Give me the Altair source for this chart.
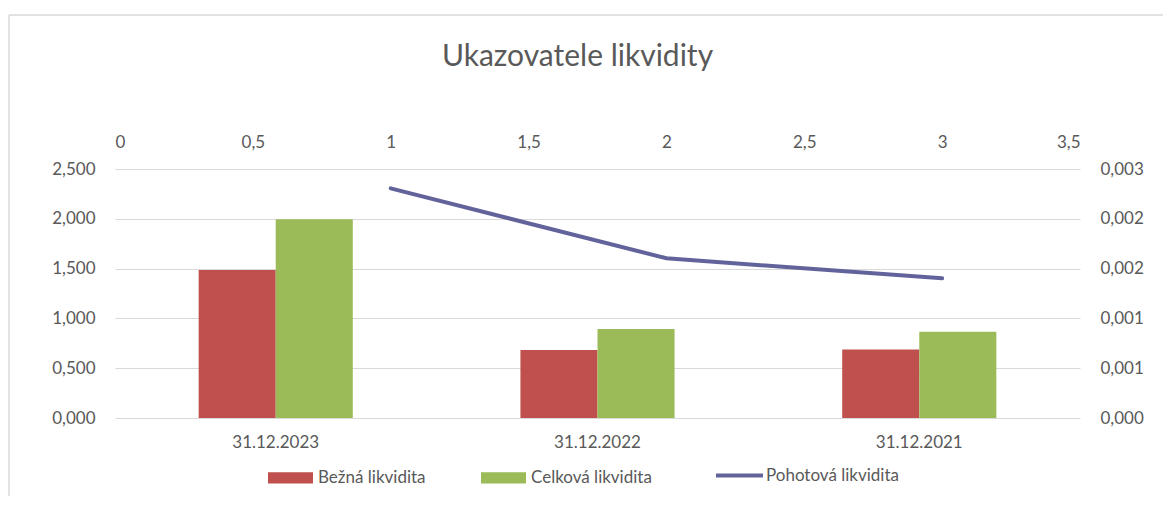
import altair as alt
import pandas as pd

dates = ["31.12.2023", "31.12.2022", "31.12.2021"]
bezna = [1.486, 0.683, 0.688]
celkova = [1.995, 0.894, 0.866]
pohotova = [0.002767, 0.001924, 0.001683]
line_pos = [1, 2, 3]
series_bars = ["Bežná likvidita", "Celková likvidita"]
series_line = ["Pohotová likvidita"]

FONT = "Lato"
TXT = "#595959"
GRID = "#d9d9d9"

bars_df = pd.DataFrame({
    "date": dates * 2,
    "series": [series_bars[0]] * 3 + [series_bars[1]] * 3,
    "value": bezna + celkova,
})
line_df = pd.DataFrame({"pos": line_pos, "value": pohotova, "series": series_line * 3})
frame_df = pd.DataFrame({"k": [0]})

bars = alt.Chart(bars_df).mark_bar().encode(
    x=alt.X("date:N", sort=dates, title=None,
            scale=alt.Scale(paddingInner=0.521, paddingOuter=0.26),
            axis=alt.Axis(orient="bottom", labelAngle=0, ticks=False, tickSize=0, domain=False,
                          labelPadding=29, labelBaseline="alphabetic")),
    xOffset=alt.XOffset("series:N", sort=series_bars),
    y=alt.Y("value:Q", title=None,
            scale=alt.Scale(domain=[0, 2.5], nice=False),
            axis=alt.Axis(orient="left", values=[0, 0.5, 1, 1.5, 2, 2.5],
                          labelExpr="replace(format(datum.value, '.3f'), '.', ',')",
                          ticks=False, tickSize=0, domain=False, labelPadding=20,
                          grid=True, gridColor=GRID, gridWidth=1)),
    color=alt.Color("series:N", sort=series_bars, title=None,
                    scale=alt.Scale(domain=series_bars, range=["#C0504D", "#9BBB59"]),
                    legend=alt.Legend(orient="none", direction="horizontal",
                                      legendX=153, legendY=286,
                                      symbolType="M-1,-0.25H1V0.25H-1Z", symbolSize=2025,
                                      symbolStrokeWidth=0, symbolOpacity=1,
                                      labelOffset=5, columnPadding=55)),
)

line = alt.Chart(line_df).mark_line(strokeWidth=4, strokeCap="round", color="#62639B").encode(
    x=alt.X("pos:Q", title=None,
            scale=alt.Scale(domain=[0, 3.5], nice=False),
            axis=alt.Axis(orient="top", values=[0, 0.5, 1, 1.5, 2, 2.5, 3, 3.5],
                          labelExpr="replace(toString(datum.value), '.', ',')",
                          ticks=False, tickSize=0, domain=False, grid=False,
                          labelPadding=22, labelBaseline="alphabetic")),
    y=alt.Y("value:Q", title=None,
            scale=alt.Scale(domain=[0, 0.003], nice=False),
            axis=alt.Axis(orient="right", values=[0, 0.0006, 0.0012, 0.0018, 0.0024, 0.003],
                          labelExpr="replace(format(datum.value, '.3f'), '.', ',')",
                          ticks=False, tickSize=0, domain=False, grid=False, labelPadding=20)),
    stroke=alt.Stroke("series:N", title=None,
                      scale=alt.Scale(domain=series_line, range=["#62639B"]),
                      legend=alt.Legend(orient="none", direction="horizontal",
                                        legendX=599, legendY=281,
                                        symbolType="stroke", symbolSize=2209,
                                        symbolStrokeWidth=4, labelOffset=1)),
)

frame_left = alt.Chart(frame_df).mark_rule(color=GRID, strokeWidth=1.5).encode(
    x=alt.value(-106), y=alt.value(-154), y2=alt.value(345)
)
frame_top = alt.Chart(frame_df).mark_rule(color=GRID, strokeWidth=1.5).encode(
    x=alt.value(-106), x2=alt.value(1070), y=alt.value(-154)
)

chart = alt.layer(frame_left, frame_top, bars, line).resolve_scale(
    x="independent", y="independent", color="independent"
).properties(
    width=965, height=249,
    autosize=alt.AutoSizeParams(type="none"),
    padding={"left": 107, "top": 161, "right": 83, "bottom": 78},
    background="white",
    title=alt.TitleParams("Ukazovatele likvidity", anchor="middle", frame="group", dx=-20,
                          offset=-82, baseline="alphabetic", fontSize=30,
                          fontWeight="normal", color=TXT, font=FONT),
).configure(font=FONT).configure_axis(
    labelFont=FONT, labelFontSize=17, labelColor=TXT
).configure_legend(
    labelFont=FONT, labelFontSize=17, labelColor=TXT
).configure_view(stroke=None)

chart.save("out.html", embed_options={"renderer": "svg", "actions": False})
